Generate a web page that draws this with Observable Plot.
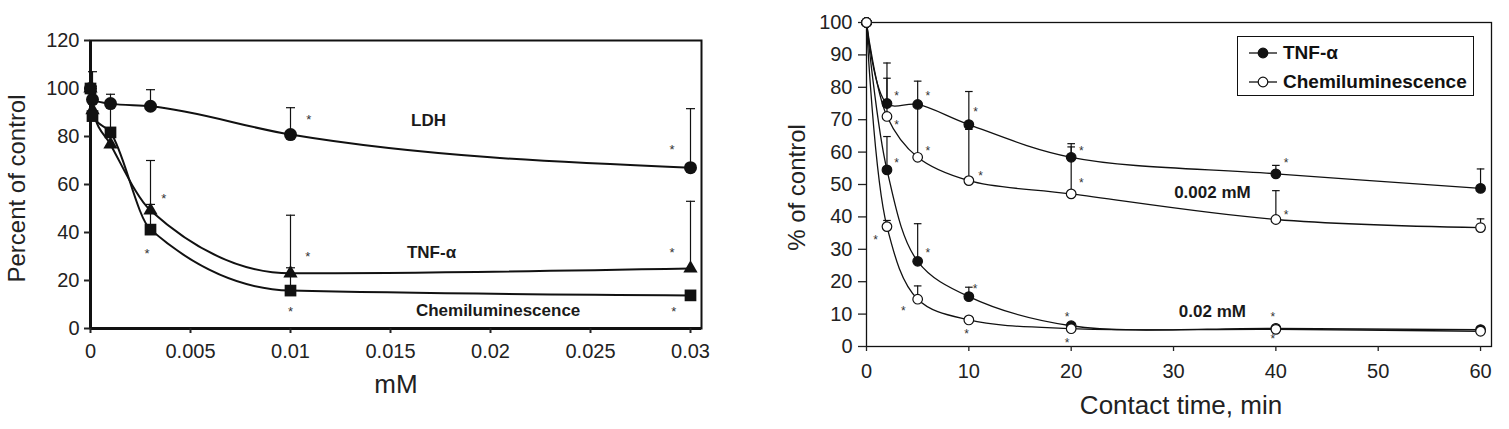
<!DOCTYPE html>
<html>
<head>
<meta charset="utf-8">
<script src="https://cdn.jsdelivr.net/npm/d3@7"></script>
<script src="https://cdn.jsdelivr.net/npm/@observablehq/plot@0.6"></script>
<style>
  html, body { margin: 0; padding: 0; background: #fff; }
  body { width: 1509px; height: 429px; overflow: hidden; position: relative; font-family: "Liberation Sans", Arial, sans-serif; color: #222; }
  #left { position: absolute; left: 0; top: 0; }
  #right { position: absolute; left: 755px; top: 0; }
  #legend { position: absolute; left: 1237px; top: 36px; width: 235px; height: 58px; border: 1.3px solid #111; background: #fff; }
  #legend .row { position: absolute; left: 0; height: 26px; display: flex; align-items: center; }
  #legend .row span { font-weight: bold; font-size: 19px; color: #111; margin-left: 5px; }
</style>
</head>
<body>
<div id="left"></div>
<div id="right"></div>
<div id="legend"></div>
<script>
// ---------- Left panel data (concentration, mM) ----------
const concentrations = [0, 0.0001, 0.001, 0.003, 0.01, 0.03];
const ldhValues   = [100, 95.4, 93.7, 92.6, 80.8, 67.0];
const ldhErrTop   = [null, 107, 97.6, 99.5, 92.0, 91.6];
const tnfValues   = [100, 91.0, 76.7, 49.2, 23.0, 25.0];
const tnfErrTop   = [null, 101, null, 70.0, 47.2, 53.0];
const chemiValues = [100, 88.5, 81.7, 41.2, 15.8, 13.8];
const chemiErrTop = [null, null, 95.3, 51.7, 25.3, null];
const leftYTicks = [0, 20, 40, 60, 80, 100, 120];
const leftXTicks = [0, 0.005, 0.01, 0.015, 0.02, 0.025, 0.03];
const leftStarX = [0.01092, 0.00367, 0.02908, 0.00283, 0.01087, 0.0100, 0.02908, 0.02917];
const leftStarY = [88.3, 55.4, 75.8, 32.5, 31.5, 8.6, 32.8, 8.2];
const leftLabels = ["LDH", "TNF-α", "Chemiluminescence"];
const leftLabelX = [0.0169, 0.01705, 0.02038];
const leftLabelY = [86.5, 31.8, 7.5];

// ---------- Right panel data (contact time, min) ----------
const times = [0, 2, 5, 10, 20, 40, 60];
const tnf002     = [100, 75.0, 74.7, 68.5, 58.4, 53.3, 48.8];
const tnf002Err  = [null, 87.5, 81.9, 78.7, 62.6, 55.9, 54.8];
const chemi002   = [100, 71.0, 58.4, 51.2, 47.1, 39.2, 36.7];
const chemi002Err= [null, 82.8, 74.0, 67.0, 61.6, 48.1, 39.4];
const tnf02      = [100, 54.5, 26.3, 15.4, 6.4, 5.6, 5.2];
const tnf02Err   = [null, 64.8, 37.9, 18.3, null, null, null];
const chemi02    = [100, 37.0, 14.6, 8.2, 5.5, 5.3, 4.7];
const chemi02Err = [null, 38.9, 18.7, null, null, null, null];
const rightYTicks = [0, 10, 20, 30, 40, 50, 60, 70, 80, 90, 100];
const rightXTicks = [0, 10, 20, 30, 40, 50, 60];
const rightStarX = [2.93, 2.93, 2.93, 6.0, 6.0, 10.65, 11.15, 21.0, 21.0, 41.0, 41.0, 0.88, 6.0, 3.6, 10.6, 9.78, 19.6, 19.6, 39.7, 39.7];
const rightStarY = [78.5, 69.4, 57.6, 78.5, 61.5, 73.4, 53.6, 61.5, 51.6, 57.6, 41.6, 34.0, 29.8, 11.9, 18.8, 4.9, 10.1, 2.1, 10.1, 3.4];
const rightLabels = ["0.002 mM", "0.02 mM"];
const rightLabelX = [33.8, 33.8];
const rightLabelY = [47.5, 10.8];
const legendNames = ["TNF-α", "Chemiluminescence"];
const legendFills = ["#111", "#fff"];

// ---------- helpers ----------
const capSymbol = {
  draw(context, size) {
    const w = Math.sqrt(size / Math.PI);
    context.moveTo(-w, 0);
    context.lineTo(w, 0);
  }
};
const font = '"Liberation Sans", Arial, sans-serif';

// ---------- Left panel ----------
const leftSeries = [
  {name: "LDH", values: ldhValues, errs: ldhErrTop, symbol: "circle"},
  {name: "TNF", values: tnfValues, errs: tnfErrTop, symbol: "triangle"},
  {name: "Chemi", values: chemiValues, errs: chemiErrTop, symbol: "square"}
];
const leftRows = leftSeries.flatMap(s => concentrations.map((x, i) => ({series: s.name, symbol: s.symbol, x, y: s.values[i], top: s.errs[i]})));
const leftErr = leftRows.filter(d => d.top != null);
const leftStars = leftStarX.map((x, i) => ({x, y: leftStarY[i]}));
const leftText = leftLabels.map((t, i) => ({t, x: leftLabelX[i], y: leftLabelY[i]}));

const left = Plot.plot({
  width: 740, height: 429,
  marginLeft: 90, marginRight: 39, marginTop: 40, marginBottom: 101,
  style: {fontFamily: font, fontSize: "20px", color: "#222", background: "transparent"},
  x: {domain: [0, 0.03055]},
  y: {domain: [0, 120]},
  marks: [
    Plot.frame({stroke: "#111", strokeWidth: 2}),
    Plot.ruleY([0], {stroke: "#111", strokeWidth: 3}),
    Plot.ruleX([0], {stroke: "#111", strokeWidth: 3}),
    Plot.axisY({ticks: leftYTicks, tickSize: 6, tickPadding: 5, fontSize: 20, label: null, strokeWidth: 2}),
    Plot.axisX({ticks: leftXTicks, tickSize: 5, tickPadding: 10, fontSize: 20, label: null, strokeWidth: 2, tickFormat: d3.format("~g")}),
    Plot.line(leftRows, {x: "x", y: "y", z: "series", curve: "monotone-x", stroke: "#111", strokeWidth: 2}),
    Plot.ruleX(leftErr, {x: "x", y1: "y", y2: "top", stroke: "#111", strokeWidth: 1.2}),
    Plot.dot(leftErr, {x: "x", y: "top", symbol: capSymbol, r: 4.5, stroke: "#111", strokeWidth: 1.2, fill: "none"}),
    Plot.dot(leftRows.filter(d => d.symbol === "circle"), {x: "x", y: "y", symbol: "circle", r: 6.5, fill: "#111", stroke: "none"}),
    Plot.dot(leftRows.filter(d => d.symbol === "triangle"), {x: "x", y: "y", symbol: "triangle", r: 5.3, fill: "#111", stroke: "none"}),
    Plot.dot(leftRows.filter(d => d.symbol === "square"), {x: "x", y: "y", symbol: "square", r: 6.6, fill: "#111", stroke: "none"}),
    Plot.text(leftStars, {x: "x", y: "y", text: () => "*", fontSize: 13, fill: "#333", dy: 3.5}),
    Plot.text(leftText, {x: "x", y: "y", text: "t", fontSize: 17, fontWeight: "bold", fill: "#1a1a1a"}),
    Plot.text(["Percent of control"], {frameAnchor: "left", textAnchor: "middle", rotate: -90, dx: -73, dy: 4, fontSize: 24, fill: "#222"}),
    Plot.text(["mM"], {frameAnchor: "bottom", dy: 64, fontSize: 26, fill: "#222"})
  ]
});
document.getElementById("left").appendChild(left);

// ---------- Right panel ----------
const rightSeries = [
  {name: "TNF 0.002", values: tnf002, errs: tnf002Err, fill: "#111"},
  {name: "Chemi 0.002", values: chemi002, errs: chemi002Err, fill: "#fff"},
  {name: "TNF 0.02", values: tnf02, errs: tnf02Err, fill: "#111"},
  {name: "Chemi 0.02", values: chemi02, errs: chemi02Err, fill: "#fff"}
];
const rightRows = rightSeries.flatMap(s => times.map((x, i) => ({series: s.name, fill: s.fill, x, y: s.values[i], top: s.errs[i]})));
const rightErr = rightRows.filter(d => d.top != null);
const rightStars = rightStarX.map((x, i) => ({x, y: rightStarY[i]}));
const rightText = rightLabels.map((t, i) => ({t, x: rightLabelX[i], y: rightLabelY[i]}));

const right = Plot.plot({
  width: 754, height: 429,
  marginLeft: 111, marginRight: 18, marginTop: 22, marginBottom: 83,
  style: {fontFamily: font, fontSize: "20px", color: "#222", background: "transparent"},
  x: {domain: [0, 61.07]},
  y: {domain: [0, 100]},
  marks: [
    Plot.frame({stroke: "#111", strokeWidth: 1.3}),
    Plot.axisY({ticks: rightYTicks, tickSize: 8, tickPadding: 6, fontSize: 20, label: null, strokeWidth: 1.3}),
    Plot.axisX({ticks: rightXTicks, tickSize: 5, tickPadding: 12, fontSize: 20, label: null, strokeWidth: 1.3}),
    Plot.line(rightRows, {x: "x", y: "y", z: "series", curve: "catmull-rom", stroke: "#111", strokeWidth: 1.3}),
    Plot.ruleX(rightErr, {x: "x", y1: "y", y2: "top", stroke: "#111", strokeWidth: 1.2}),
    Plot.dot(rightErr, {x: "x", y: "top", symbol: capSymbol, r: 3.8, stroke: "#111", strokeWidth: 1.2, fill: "none"}),
    Plot.dot(rightRows.filter(d => d.fill === "#111"), {x: "x", y: "y", r: 4.8, fill: "#111", stroke: "#111", strokeWidth: 1.2}),
    Plot.dot(rightRows.filter(d => d.fill === "#fff"), {x: "x", y: "y", r: 4.8, fill: "#fff", stroke: "#111", strokeWidth: 1.2}),
    Plot.text(rightStars, {x: "x", y: "y", text: () => "*", fontSize: 12, fill: "#333", dy: 3.5}),
    Plot.text(rightText, {x: "x", y: "y", text: "t", fontSize: 17, fontWeight: "bold", fill: "#1a1a1a"}),
    Plot.text(["% of control"], {frameAnchor: "left", textAnchor: "middle", rotate: -90, dx: -69, dy: 3, fontSize: 24, fill: "#222"}),
    Plot.text(["Contact time, min"], {frameAnchor: "bottom", dx: 2, dy: 67, fontSize: 26, fill: "#222"})
  ]
});
document.getElementById("right").appendChild(right);

// ---------- Legend ----------
const legend = document.getElementById("legend");
legendNames.forEach((name, i) => {
  const row = document.createElement("div");
  row.className = "row";
  row.style.top = (i === 0 ? 3 : 32) + "px";
  row.style.left = "10px";
  const svg = d3.create("svg").attr("width", 30).attr("height", 26);
  svg.append("line").attr("x1", 1).attr("x2", 29).attr("y1", 13).attr("y2", 13).attr("stroke", "#111").attr("stroke-width", 1.3);
  svg.append("circle").attr("cx", 15).attr("cy", 13).attr("r", 4.8).attr("fill", legendFills[i]).attr("stroke", "#111").attr("stroke-width", 1.2);
  row.appendChild(svg.node());
  const span = document.createElement("span");
  span.textContent = name;
  row.appendChild(span);
  legend.appendChild(row);
});
</script>
</body>
</html>
